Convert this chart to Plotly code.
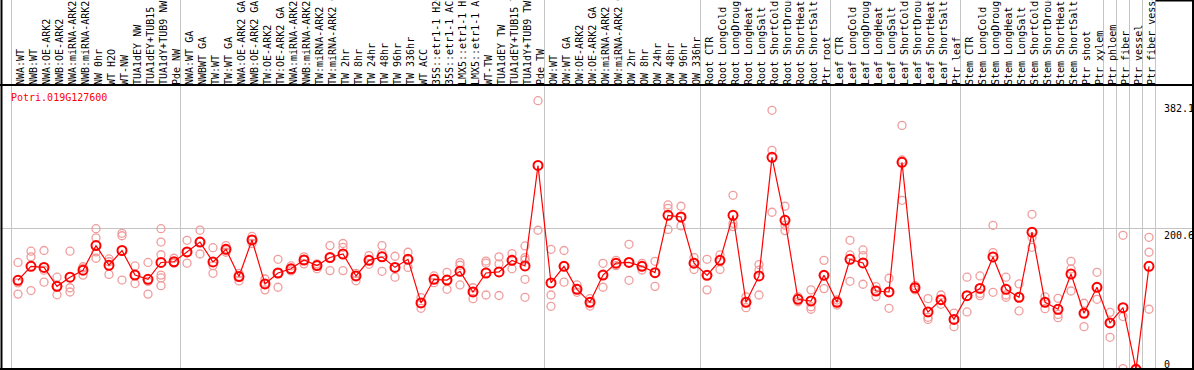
import plotly.graph_objects as go

# ---------------- data ----------------
categories = [
    "NWA:WT", "NWB:WT", "NWA:OE-ARK2", "NWB:OE-ARK2", "NWA:miRNA-ARK2", "NWB:miRNA-ARK2",
    "NW 0hr", "WT H2O", "WT-NW", "TUA1dEY NW", "TUA1dEY+TUB15 NW", "TUA1dY+TUB9 NW", "Pde NW",
    "NWA:WT GA", "NWBWT GA", "TW:WT", "TW:WT GA", "NWA:OE-ARK2 GA", "NWB:OE-ARK2 GA",
    "TW:OE-ARK2", "TW:OE-ARK2 GA", "NWA:miRNA-ARK2 GA", "NWB:miRNA-ARK2 GA", "TW:miRNA-ARK2",
    "TW:miRNA-ARK2 GA", "TW 2hr", "TW 8hr", "TW 24hr", "TW 48hr", "TW 96hr", "TW 336hr",
    "WT ACC", "35S::etr1-1 H2O", "35S::etr1-1 ACC", "LMX5::etr1-1 H2O", "LMX5::etr1-1 ACC",
    "WT-TW", "TUA1dEY TW", "TUA1dEY+TUB15 TW", "TUA1dY+TUB9 TW", "Pde TW",
    "OW:WT", "OW:WT GA", "OW:OE-ARK2", "OW:OE-ARK2 GA", "OW:miRNA-ARK2", "OW:miRNA-ARK2 GA",
    "OW 2hr", "OW 8hr", "OW 24hr", "OW 48hr", "OW 96hr", "OW 336hr",
    "Root CTR", "Root LongCold", "Root LongDrought", "Root LongHeat", "Root LongSalt",
    "Root ShortCold", "Root ShortDrought", "Root ShortHeat", "Root ShortSalt", "Ptr root",
    "Leaf CTR", "Leaf LongCold", "Leaf LongDrought", "Leaf LongHeat", "Leaf LongSalt",
    "Leaf ShortCold", "Leaf ShortDrought", "Leaf ShortHeat", "Leaf ShortSalt", "Ptr leaf",
    "Stem CTR", "Stem LongCold", "Stem LongDrought", "Stem LongHeat", "Stem LongSalt",
    "Stem ShortCold", "Stem ShortDrought", "Stem ShortHeat", "Stem ShortSalt",
    "Ptr shoot", "Ptr xylem", "Ptr phloem", "Ptr fiber", "Ptr vessel", "Ptr fiber vessel",
]

mean_values = [
    126.6, 146.5, 145, 118, 131, 141, 176, 148, 169, 134, 128, 152, 153,
    167, 181, 152.7, 170.7, 132, 184, 121.4, 137, 143, 155.5, 147.5, 159, 164, 132.8,
    155, 160, 145, 156.5, 94.4, 128, 127, 139.4, 110, 137, 138.5, 155, 147, 290,
    122.8, 146.5, 113.8, 95.3, 134, 151, 152, 146.5, 137.5, 219, 216.7, 151,
    133.7, 155, 219, 95.3, 132.8, 301.6, 212, 99.6, 97.2, 133.7,
    95.3, 156.5, 151.3, 111.4, 110, 294.5, 116, 81.6, 99, 71,
    104.8, 115, 159.8, 113.8, 102.4, 195, 95.3, 85.4, 135.6,
    79.7, 116.7, 66, 87.7, 0, 146.5,
]

replicate_values = [
    [152, 123, 107], [168, 160, 112], [169, 141, 124], [131, 118, 106], [168, 116, 110],
    [146, 144, 134], [200, 187, 167, 158], [157, 153, 135], [193.5, 190, 127], [147, 134, 122],
    [152, 125, 107], [200, 181, 163, 134, 130, 119], [158, 153, 151],
    [183.5, 167, 151], [198, 181, 164], [173, 147.5, 136.6], [176, 170, 166.5], [136.6, 132, 125.7],
    [189, 184, 179], [128.5, 122, 113], [156.5, 137, 116.7], [147, 143, 140], [160, 155.5, 150],
    [150, 147.5, 143], [176, 159, 140.4], [179, 173.6, 140.4], [136.6, 133, 126], [161.7, 155, 149.4],
    [176, 165, 139.4], [160.8, 145, 131], [166.5, 156.5, 145], [102, 94.4, 86.8], [132.8, 128, 123.3],
    [138, 127, 113.8], [151.8, 148, 120], [116, 110, 100.5], [154, 151, 105.7], [160, 150, 105],
    [164.6, 155, 143], [175.5, 159, 155.5, 128, 102.4], [382.1, 197.8],
    [170.7, 105.7, 89.6], [169, 146.5, 124], [120, 113.8, 109.5], [100.5, 95.3, 90], [150.8, 134, 116.7],
    [155, 151, 147.5], [177.8, 152, 126.6], [150.8, 146.5, 141.3], [153.6, 137.5, 118],
    [233.8, 229, 199], [232, 216, 204], [159, 151, 142],
    [156.5, 133.7, 113], [162.7, 155, 142], [247.5, 207.7, 203], [103, 95.3, 87.7], [149, 141, 105.7],
    [368.5, 311.6, 223.4], [232, 205, 197.3], [103, 99.6, 96], [113, 89, 85.4], [155, 133.7, 114.8],
    [98.6, 95.3, 91.5], [183.5, 162.7, 125.2], [169.8, 161.7, 121], [117.6, 111.4, 103.4],
    [129.5, 110, 86.8], [347, 297.8, 240.4], [119, 116, 113], [100.5, 74, 71], [105.7, 99, 92.5],
    [80, 71, 60.7],
    [131, 104.8, 81.6], [132.8, 108, 104.8], [204.9, 166, 109.5], [131, 105.7, 102.4],
    [121.4, 102.4, 83], [220.5, 187.8, 173.6], [103, 95.3, 86.3], [101, 78, 73.5],
    [153.6, 142.7, 111.4],
    [94, 79.7, 60.7], [138, 116.7, 99.6], [81, 66, 45.5], [190.6, 75, 1], [0, 0, 0],
    [187.8, 166.5, 85.4],
]

gene_name = "Potri.019G127600"
y_tick_values = [0, 200.6, 382.1]
y_tick_labels = ["0", "200.6", "382.1"]
group_separators = [-0.5, 12.5, 40.5, 52.5, 62.5, 72.5, 83.5, 84.5, 85.5, 86.5, 87.5]

# ---------------- figure ----------------
W, H = 1194, 370
FONT = "DejaVu Sans Mono"
x_index = list(range(len(categories)))

rep_x, rep_y = [], []
for i, reps in enumerate(replicate_values):
    for v in reps:
        rep_x.append(i)
        rep_y.append(v)

fig = go.Figure()
fig.add_trace(go.Scatter(
    x=rep_x, y=rep_y, mode="markers",
    marker=dict(symbol="circle-open", size=8, color="#f09c9c", line=dict(width=1.3, color="#f09c9c")),
    hoverinfo="skip", showlegend=False,
))
fig.add_trace(go.Scatter(
    x=x_index, y=mean_values, mode="lines+markers",
    line=dict(color="#ff0000", width=1.2),
    marker=dict(symbol="circle-open", size=9, color="#ff0000", line=dict(width=2, color="#ff0000")),
    showlegend=False,
))

# pixel mapping: x_px = 18 + 13*k ; y_px = 369.3 - 0.7029*v
x_range = [-18 / 13, (W - 18) / 13]
y_scale = 0.7029
y_range = [-(H - 369.3) / y_scale, 369.3 / y_scale]
label_line_px = 85

shapes = []
for s in group_separators:
    shapes.append(dict(type="line", xref="x", yref="paper", x0=s, x1=s, y0=0, y1=1,
                       line=dict(color="#c4c4c4", width=1), layer="below"))
# borders and label separator
shapes.append(dict(type="line", xref="paper", yref="paper", x0=1.5 / W, x1=1.5 / W, y0=0, y1=1,
                   line=dict(color="black", width=2), layer="above"))
shapes.append(dict(type="line", xref="paper", yref="paper", x0=(W - 1) / W, x1=(W - 1) / W, y0=0, y1=1,
                   line=dict(color="black", width=2), layer="above"))
shapes.append(dict(type="line", xref="paper", yref="paper", x0=0, x1=1, y0=1 / H, y1=1 / H,
                   line=dict(color="black", width=2), layer="above"))
shapes.append(dict(type="line", xref="paper", yref="paper", x0=0, x1=1,
                   y0=1 - label_line_px / H, y1=1 - label_line_px / H,
                   line=dict(color="black", width=2), layer="above"))
shapes.append(dict(type="line", xref="x", yref="paper", x0=group_separators[-1], x1=x_range[1],
                   y0=1 - 0.5 / H, y1=1 - 0.5 / H, line=dict(color="black", width=2), layer="above"))

annotations = [dict(
    text=gene_name, xref="paper", yref="paper", x=9 / W, y=1 - 97 / H,
    xanchor="left", yanchor="middle", showarrow=False,
    font=dict(family=FONT, size=10, color="#ff0000"),
)]
for v, t in zip(y_tick_values, y_tick_labels):
    annotations.append(dict(
        text=t, xref="paper", yref="y", x=1162 / W, y=v,
        xanchor="left", yanchor="bottom" if v == 0 else "top", showarrow=False,
        font=dict(family=FONT, size=10, color="black"),
        yshift=-3 if v == 0 else 0,
    ))

fig.update_layout(
    width=W, height=H,
    margin=dict(l=0, r=0, t=0, b=0, pad=0),
    paper_bgcolor="white", plot_bgcolor="white",
    showlegend=False,
    shapes=shapes, annotations=annotations,
    xaxis=dict(
        range=x_range, domain=[0, 1], anchor="free", position=1 - label_line_px / H,
        side="top", tickmode="array", tickvals=x_index, ticktext=categories,
        tickangle=-90, ticks="", showline=False, ticklabelshift=3,
        showgrid=False, zeroline=False, automargin=False,
        tickfont=dict(family=FONT, size=10, color="black"),
    ),
    yaxis=dict(
        range=y_range, domain=[0, 1], tickmode="array", tickvals=[200.6],
        showticklabels=False, ticks="", showgrid=True, gridcolor="#c4c4c4", gridwidth=1,
        zeroline=False, showline=False, automargin=False,
    ),
)

fig.write_html(
    "out.html",
    config={"displayModeBar": False},
    post_script="document.body.style.margin='0';document.body.style.overflow='hidden';",
)
